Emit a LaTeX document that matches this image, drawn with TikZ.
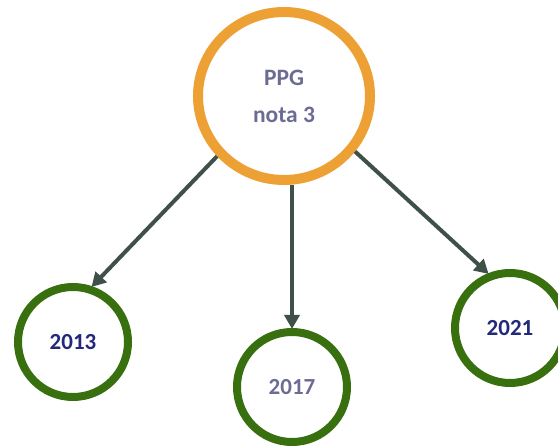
\documentclass[tikz,border=0pt]{standalone}
\usepackage{fontspec}
\setmainfont{Carlito}
\usetikzlibrary{arrows.meta,shapes.geometric}
\definecolor{ringorange}{HTML}{EDA135}
\definecolor{ringgreen}{HTML}{38700F}
\definecolor{arrowgray}{HTML}{3F5049}
\definecolor{textgray}{HTML}{6B6B93}
\definecolor{textnavy}{HTML}{23287A}
\tikzset{
  bigring/.style={draw=ringorange, line width=10pt, ellipse, minimum width=172pt, minimum height=168pt, inner sep=0pt, align=center, font=\fontsize{23.5}{37}\selectfont\bfseries, text=textgray},
  yearring/.style={draw=ringgreen, line width=8pt, circle, minimum size=110pt, inner sep=0pt, font=\fontsize{23}{27}\selectfont\bfseries},
  link/.style={draw=arrowgray, line width=4pt, -{Triangle[length=14pt,width=15pt]}, shorten >=-1pt}
}
\begin{document}
\begin{tikzpicture}[x=1pt,y=-1pt]
\useasboundingbox (0,0) rectangle (558,446);
\node[bigring] (ppg) at (284,96) {PPG\\nota 3};
\node[yearring, text=textnavy] (y13) at (73,342) {2013};
\node[yearring, text=textgray] (y17) at (292,387) {2017};
\node[yearring, text=textnavy] (y21) at (510,328) {2021};
\draw[link] (ppg.222) -- (y13.71);
\draw[link] (ppg.south -| y17.north) -- (y17.north);
\draw[link] (ppg.322) -- (y21.112);
\end{tikzpicture}
\end{document}
